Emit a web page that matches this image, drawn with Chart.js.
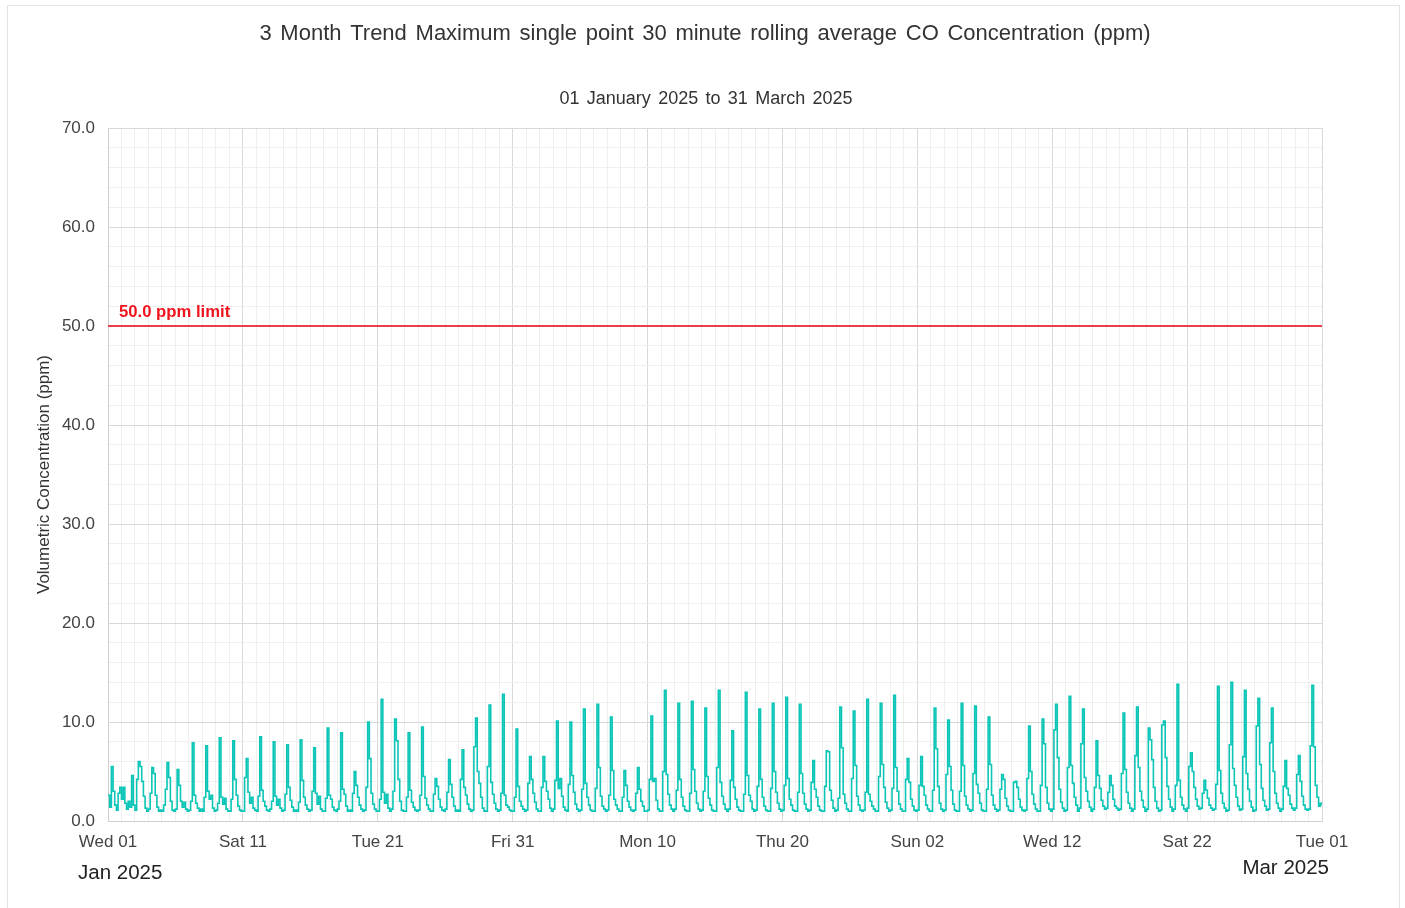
<!DOCTYPE html>
<html>
<head>
<meta charset="utf-8">
<title>CO Concentration 3 Month Trend</title>
<script src="https://cdn.jsdelivr.net/npm/chart.js@4.4.1/dist/chart.umd.min.js"></script>
<style>
    body { margin: 0; background: #ffffff; }
    .frame { position: absolute; left: 7px; top: 5px; width: 1393px; height: 920px; border: 1px solid #e2e2e2; box-sizing: border-box; }
    .chart-box { position: absolute; left: 0; top: 0; width: 1405px; height: 908px; }
</style>
</head>
<body>
<div class="frame"></div>
<div class="chart-box"><canvas id="canvas"></canvas></div>
<script>
// x axis: hours from 01 Jan 2025 00:00, one reading every 3 hours
var chartTitle = '3 Month Trend Maximum single point 30 minute rolling average CO Concentration (ppm)';
var chartSubtitle = '01 January 2025 to 31 March 2025';
var dayTickLabels = ['Wed 01', 'Sat 11', 'Tue 21', 'Fri 31', 'Mon 10', 'Thu 20', 'Sun 02', 'Wed 12', 'Sat 22', 'Tue 01'];
var monthLabels = ['Jan 2025', 'Mar 2025'];
var limitValue = 50.0;

// maximum single point 30 min rolling average CO (ppm), 8 readings per day
var coValues = [
    2.6, 1.4, 5.5, 3.0, 1.6, 1.1, 2.8, 3.4,
    2.2, 3.4, 1.8, 1.2, 2.0, 1.4, 4.6, 1.6,
    1.1, 4.2, 6.0, 5.5, 4.0, 2.5, 1.3, 1.0,
    1.2, 2.8, 5.4, 4.8, 2.6, 1.4, 1.0, 1.1,
    1.0, 1.6, 3.2, 5.9, 4.4, 2.0, 1.1, 1.0,
    1.2, 5.2, 3.6, 2.0, 1.4, 1.9, 1.2, 1.0,
    1.1, 2.0, 7.9, 2.6, 1.8, 1.3, 1.0, 1.2,
    1.0, 2.4, 7.6, 3.0, 2.2, 2.6, 1.3, 1.0,
    1.1, 1.8, 8.4, 2.4, 1.7, 2.3, 1.2, 1.0,
    1.0, 2.2, 8.1, 4.2, 2.6, 1.5, 1.1, 1.0,
    1.0, 4.4, 6.3, 2.9, 1.8, 2.4, 1.3, 1.1,
    1.0, 2.5, 8.5, 3.1, 2.0, 1.5, 1.1, 1.0,
    1.2, 2.0, 8.0, 2.5, 1.6, 2.2, 1.3, 1.0,
    1.1, 2.7, 7.7, 3.4, 2.1, 1.4, 1.0, 1.1,
    1.0, 1.9, 8.2, 4.1, 2.4, 1.6, 1.2, 1.0,
    1.1, 3.0, 7.4, 2.8, 1.7, 2.5, 1.2, 1.0,
    1.0, 2.3, 9.4, 2.6, 2.2, 1.4, 1.1, 1.0,
    1.2, 2.0, 8.9, 3.2, 2.7, 1.5, 1.0, 1.1,
    1.0, 2.8, 5.0, 3.6, 2.4, 1.6, 1.2, 1.0,
    1.1, 3.4, 10.0, 6.3, 2.8, 1.7, 1.2, 1.0,
    1.0, 2.2, 12.3, 2.9, 1.8, 2.7, 1.3, 1.0,
    1.2, 3.0, 10.3, 8.1, 4.2, 2.0, 1.1, 1.0,
    1.0, 2.4, 8.9, 3.1, 1.9, 1.4, 1.1, 1.0,
    1.1, 2.6, 9.5, 4.5, 2.3, 1.6, 1.2, 1.0,
    1.0, 2.7, 4.3, 3.5, 2.2, 1.4, 1.1, 1.0,
    1.2, 2.9, 6.2, 3.7, 2.4, 1.5, 1.0, 1.1,
    1.0, 4.2, 7.2, 3.4, 2.6, 1.7, 1.2, 1.0,
    1.1, 7.5, 10.4, 5.0, 3.8, 2.4, 1.3, 1.0,
    1.0, 5.5, 11.7, 3.9, 2.7, 1.8, 1.2, 1.0,
    1.1, 2.8, 12.8, 2.6, 1.6, 1.4, 1.1, 1.0,
    1.0, 2.4, 9.3, 3.5, 2.0, 1.5, 1.2, 1.0,
    1.1, 3.8, 6.5, 4.2, 2.8, 1.9, 1.2, 1.0,
    1.0, 3.4, 6.5, 4.0, 3.0, 2.2, 1.3, 1.0,
    1.2, 4.1, 10.1, 3.3, 4.3, 2.5, 1.4, 1.1,
    1.0, 3.7, 10.0, 4.6, 2.9, 1.7, 1.2, 1.0,
    1.1, 3.2, 11.3, 3.8, 2.4, 1.6, 1.1, 1.0,
    1.0, 3.3, 11.8, 5.4, 2.5, 1.5, 1.2, 1.0,
    1.1, 2.6, 10.5, 5.1, 2.2, 1.6, 1.2, 1.0,
    1.0, 2.4, 5.1, 3.6, 2.0, 1.4, 1.1, 1.0,
    1.1, 2.8, 5.4, 3.2, 2.0, 1.5, 1.0, 1.0,
    1.1, 4.2, 10.6, 4.0, 4.3, 2.1, 1.2, 1.0,
    1.0, 5.0, 13.2, 4.7, 2.7, 1.6, 1.2, 1.0,
    1.2, 3.1, 11.9, 4.2, 2.4, 1.5, 1.1, 1.0,
    1.0, 2.8, 12.1, 5.2, 3.0, 1.8, 1.2, 1.0,
    1.1, 3.0, 11.4, 4.5, 2.3, 1.6, 1.1, 1.0,
    1.0, 5.4, 13.2, 3.9, 2.5, 1.7, 1.2, 1.0,
    1.2, 4.1, 9.1, 3.4, 2.2, 1.4, 1.1, 1.0,
    1.0, 2.7, 13.0, 4.6, 2.6, 2.0, 1.2, 1.0,
    1.1, 3.5, 11.3, 4.2, 2.4, 1.5, 1.1, 1.0,
    1.0, 3.3, 11.9, 5.0, 2.9, 1.8, 1.2, 1.0,
    1.1, 3.6, 12.5, 4.3, 2.2, 1.6, 1.1, 1.0,
    1.0, 2.9, 11.8, 4.8, 2.8, 1.7, 1.2, 1.0,
    1.1, 3.9, 6.1, 3.2, 2.4, 1.5, 1.1, 1.0,
    1.0, 3.5, 7.1, 7.0, 3.1, 2.1, 1.3, 1.0,
    1.1, 2.3, 11.5, 7.4, 2.7, 1.8, 1.2, 1.0,
    1.0, 4.3, 11.1, 5.6, 2.5, 1.6, 1.1, 1.0,
    1.1, 2.9, 12.3, 2.7, 2.0, 1.5, 1.2, 1.0,
    1.0, 4.5, 11.9, 5.7, 3.4, 1.9, 1.3, 1.0,
    1.1, 3.3, 12.7, 5.4, 3.0, 1.7, 1.2, 1.0,
    1.0, 4.2, 6.3, 3.9, 2.2, 1.5, 1.1, 1.0,
    1.1, 3.6, 6.5, 3.5, 2.6, 1.6, 1.2, 1.0,
    1.0, 3.1, 11.4, 7.3, 3.5, 1.8, 1.2, 1.0,
    1.1, 4.7, 10.2, 5.5, 3.1, 1.7, 1.1, 1.0,
    1.0, 3.0, 11.9, 5.6, 2.5, 1.6, 1.2, 1.0,
    1.1, 4.8, 11.6, 3.7, 2.8, 1.8, 1.1, 1.0,
    1.0, 3.2, 10.5, 5.7, 2.6, 1.6, 1.2, 1.0,
    1.1, 3.2, 4.7, 4.2, 2.3, 1.5, 1.1, 1.0,
    1.0, 3.9, 4.0, 3.4, 2.2, 1.4, 1.1, 1.0,
    1.1, 4.3, 9.6, 5.0, 2.7, 1.7, 1.2, 1.0,
    1.0, 3.6, 10.3, 7.8, 3.4, 1.8, 1.2, 1.0,
    1.2, 9.2, 11.8, 6.4, 3.2, 1.9, 1.3, 1.0,
    1.1, 5.4, 12.6, 5.6, 3.8, 2.4, 1.6, 1.0,
    1.3, 7.8, 11.3, 4.4, 3.0, 2.0, 1.4, 1.0,
    1.2, 3.4, 8.1, 4.6, 3.3, 2.1, 1.5, 1.2,
    1.3, 2.9, 4.6, 3.6, 2.2, 1.5, 1.3, 1.1,
    1.2, 4.8, 10.9, 5.2, 2.9, 1.8, 1.3, 1.0,
    1.2, 6.6, 11.5, 5.4, 3.0, 2.1, 1.4, 1.0,
    1.2, 9.4, 8.2, 6.2, 3.4, 2.0, 1.3, 1.0,
    1.1, 9.7, 10.1, 6.4, 3.5, 2.2, 1.4, 1.0,
    1.2, 3.6, 13.8, 4.1, 2.4, 1.6, 1.2, 1.0,
    1.3, 5.5, 6.9, 5.0, 3.4, 2.2, 1.5, 1.2,
    1.3, 2.8, 4.1, 3.1, 2.3, 1.6, 1.3, 1.1,
    1.2, 3.7, 13.6, 5.1, 2.8, 1.8, 1.3, 1.0,
    1.1, 7.7, 14.0, 5.3, 3.6, 2.4, 1.5, 1.1,
    1.2, 6.5, 13.2, 4.8, 3.2, 2.0, 1.4, 1.0,
    1.1, 9.6, 12.4, 5.7, 3.3, 2.1, 1.5, 1.1,
    1.2, 7.9, 11.4, 5.0, 2.8, 1.8, 1.3, 1.0,
    1.2, 3.5, 6.1, 3.3, 2.6, 1.7, 1.3, 1.1,
    1.3, 4.7, 6.6, 4.0, 2.5, 1.6, 1.2, 1.1,
    1.2, 7.6, 13.7, 7.5, 3.6, 2.4, 1.5, 1.8,
    1.6
];

var hoursPerReading = 3;
var totalHours = 2160;
var fontName = "'Liberation Sans', Arial, sans-serif";

function buildPoints(values){
    var points = [];
    for (var i = 0; i < values.length; i++){
        points.push({x: i * hoursPerReading, y: values[i]});
    }
    return points;
}

// titles, limit label and month labels under the x axis
var textPlugin = {
    id: 'extraText',
    afterDraw: function(chart){
        var ctx = chart.ctx;
        var xScale = chart.scales.x;
        var yScale = chart.scales.y;
        ctx.save();
        ctx.textBaseline = 'middle';
        ctx.textAlign = 'center';
        ctx.fillStyle = '#333333';
        ctx.wordSpacing = '2.6px';
        ctx.font = '22px ' + fontName;
        ctx.fillText(chartTitle, 705, 34);
        ctx.wordSpacing = '2.3px';
        ctx.font = '18px ' + fontName;
        ctx.fillText(chartSubtitle, 706, 99);
        ctx.wordSpacing = '0px';

        ctx.fillStyle = '#f0141e';
        ctx.font = 'bold 16.7px ' + fontName;
        ctx.textAlign = 'left';
        ctx.fillText(limitValue.toFixed(1) + ' ppm limit', chart.chartArea.left + 11, yScale.getPixelForValue(limitValue) - 14);

        ctx.fillStyle = '#222222';
        ctx.font = '20.5px ' + fontName;
        ctx.textAlign = 'left';
        ctx.fillText(monthLabels[0], xScale.getPixelForValue(0) - 30, 873);
        ctx.textAlign = 'right';
        ctx.fillText(monthLabels[1], xScale.getPixelForValue(totalHours) + 7, 868);
        ctx.restore();
    }
};

Chart.defaults.font.family = fontName;
Chart.defaults.color = '#444444';

var ctx = document.getElementById('canvas').getContext('2d');
var chart = new Chart(ctx, {
    type: 'line',
    data: {
        datasets: [
            {
                label: 'CO',
                data: buildPoints(coValues),
                borderColor: '#0bc5b6',
                borderWidth: 1.6,
                pointRadius: 0,
                stepped: true,
                fill: false
            },
            {
                label: 'limit',
                data: [{x: 0, y: limitValue}, {x: totalHours, y: limitValue}],
                borderColor: '#e8404a',
                borderWidth: 2,
                pointRadius: 0,
                fill: false
            }
        ]
    },
    options: {
        responsive: true,
        maintainAspectRatio: false,
        animation: false,
        layout: { padding: { top: 128, left: 0, right: 0, bottom: 0 } },
        plugins: {
            legend: { display: false },
            tooltip: { enabled: false },
            title: { display: false },
            subtitle: { display: false }
        },
        scales: {
            x: {
                type: 'linear',
                min: 0,
                max: totalHours,
                afterFit: function(scale){ scale.height = 87; },
                grid: {
                    drawTicks: false,
                    color: function(c){ return c.tick && c.tick.value % 240 === 0 ? '#d9d9d9' : '#efefef'; }
                },
                border: { color: '#d0d0d0' },
                ticks: {
                    stepSize: 24,
                    autoSkip: false,
                    maxRotation: 0,
                    minRotation: 0,
                    padding: 11,
                    color: '#444444',
                    font: { size: 17 },
                    callback: function(value){
                        if (value % 240 === 0) return dayTickLabels[value / 240];
                        return '';
                    }
                }
            },
            y: {
                min: 0,
                max: 70,
                afterFit: function(scale){ scale.width = 108; },
                grid: {
                    drawTicks: false,
                    color: function(c){ return c.tick && c.tick.value % 10 === 0 ? '#d9d9d9' : '#efefef'; }
                },
                border: { color: '#d0d0d0' },
                title: {
                    display: true,
                    text: 'Volumetric Concentration (ppm)',
                    color: '#333333',
                    font: { size: 17 },
                    padding: { top: 34, bottom: 0 }
                },
                ticks: {
                    stepSize: 2,
                    autoSkip: false,
                    padding: 13,
                    color: '#444444',
                    font: { size: 17 },
                    callback: function(value){
                        if (value % 10 === 0) return value.toFixed(1);
                        return '';
                    }
                }
            },
            yRight: {
                position: 'right',
                afterFit: function(scale){ scale.width = 83; },
                grid: { display: false },
                border: { display: false },
                ticks: { display: false }
            }
        }
    },
    plugins: [textPlugin]
});
</script>
</body>
</html>
